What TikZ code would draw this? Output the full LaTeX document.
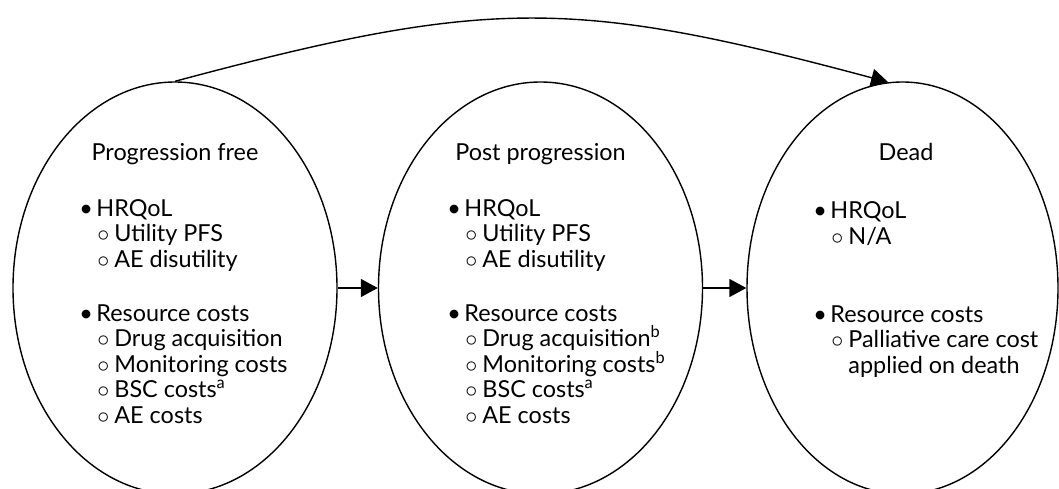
\documentclass[tikz,border=0pt]{standalone}
\usepackage{fontspec}
\setmainfont{Lato}
\usepackage{tikz}
\usetikzlibrary{arrows,arrows.meta,shapes,positioning}

\newcommand{\statefont}{\fontsize{11.7}{12.75}\selectfont}
\newcommand{\stateitem}[1]{\makebox[8.5pt][l]{\textbullet}#1}
\newcommand{\statesub}[1]{\hspace*{9pt}\makebox[8.5pt][l]{$\circ$}#1}

\begin{document}
\begin{tikzpicture}[x=0.5pt,y=0.5pt,
        state/.style={ellipse,draw,line width=0.7pt,minimum width=162pt,minimum height=206pt,inner sep=0pt},
        statename/.style={anchor=base,inner sep=0pt,font=\statefont},
        statelist/.style={anchor=base west,align=left,inner sep=0pt,font=\statefont},
        link/.style={-{Triangle[length=8.5pt,width=9pt]},line width=0.7pt}]
        \useasboundingbox (0,0) rectangle (1059,488);
        \node[state] (pf) at (175,200) {};
        \node[state] (pp) at (540.5,200) {};
        \node[state,minimum width=155.5pt] (dead) at (902.5,200) {};
        % state names
        \node[statename] (pfname) at (175,328) {Progression free};
        \node[statename] (ppname) at (540.5,328) {Post progression};
        \node[statename] (deadname) at (906,328) {Dead};
        % what each state carries (base = last line)
        \node[statelist] (pflist) at (79,65) {\stateitem{HRQoL}\\
                \statesub{Utility PFS}\\
                \statesub{AE disutility}\\[14.25pt]
                \stateitem{Resource costs}\\
                \statesub{Drug acquisition}\\
                \statesub{Monitoring costs}\\
                \statesub{BSC costs\textsuperscript{a}}\\
                \statesub{AE costs}};
        \node[statelist] (pplist) at (447,65) {\stateitem{HRQoL}\\
                \statesub{Utility PFS}\\
                \statesub{AE disutility}\\[14.25pt]
                \stateitem{Resource costs}\\
                \statesub{Drug acquisition\textsuperscript{b}}\\
                \statesub{Monitoring costs\textsuperscript{b}}\\
                \statesub{BSC costs\textsuperscript{a}}\\
                \statesub{AE costs}};
        \node[statelist] (deadlist) at (813,115) {\stateitem{HRQoL}\\
                \statesub{N/A}\\[26.25pt]
                \stateitem{Resource costs}\\
                \statesub{Palliative care cost}\\
                \hspace*{17.5pt}applied on death};
        \draw[link] (pf) -- (pp);
        \draw[link] (pp) -- (dead);
        \draw[link] (pf.north) to[out=15,in=165,looseness=1.17] (dead.94);
\end{tikzpicture}
\end{document}
